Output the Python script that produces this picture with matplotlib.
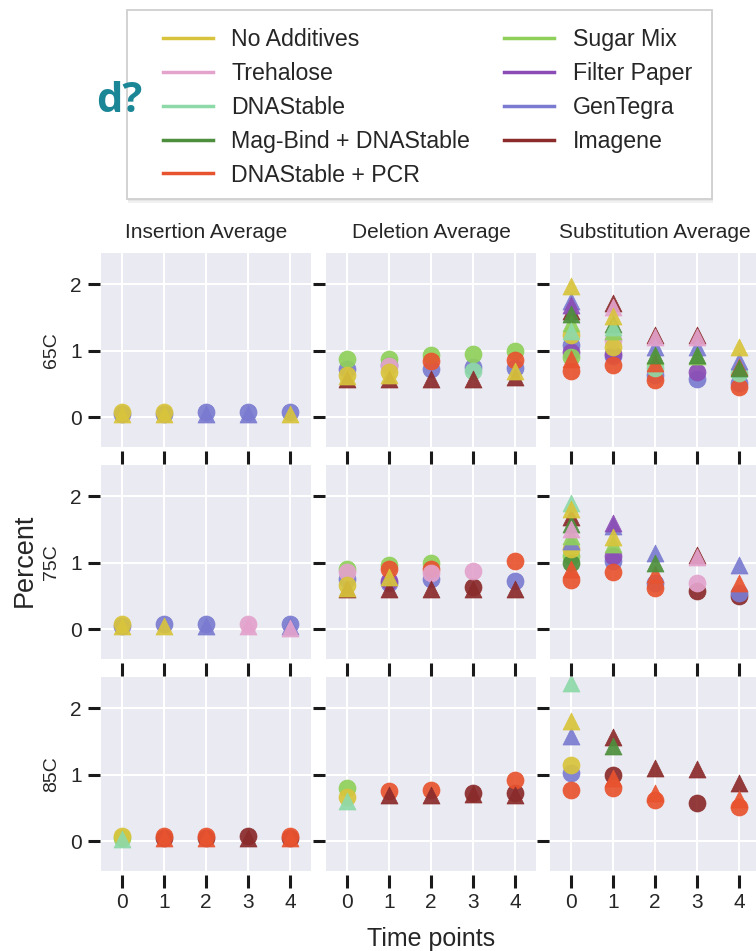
import numpy as np
import matplotlib
matplotlib.use("Agg")
import matplotlib.pyplot as plt
from matplotlib.lines import Line2D
from matplotlib.patches import Rectangle

plt.rcParams['font.family'] = ['Liberation Sans', 'DejaVu Sans']

n = np.nan

time_points = [0, 1, 2, 3, 4]
temps = ['65C', '75C', '85C']
col_titles = ['Insertion Average', 'Deletion Average', 'Substitution Average']

names = ['No Additives', 'Trehalose', 'DNAStable', 'Mag-Bind + DNAStable',
         'DNAStable + PCR', 'Sugar Mix', 'Filter Paper', 'GenTegra', 'Imagene']
colors = ['#d8c43c', '#e3a3cc', '#8ed9a8', '#4d8f3c', '#e8532f',
          '#8fd05a', '#8b4db5', '#7a7bd0', '#8b2b2b']

# rows follow the order of `names`, columns are time points 0..4
ins65_circle = [
    [0.07, 0.07, n, n, n],
    [n, n, n, n, n],
    [n, n, n, n, n],
    [n, n, n, n, n],
    [n, n, n, n, n],
    [n, n, n, n, n],
    [n, n, n, n, n],
    [0.05, 0.05, 0.07, 0.07, 0.07],
    [n, n, n, n, n],
]
ins65_tri = [
    [0.04, 0.04, n, n, 0.04],
    [n, n, n, n, n],
    [n, n, n, n, n],
    [n, n, n, n, n],
    [n, n, n, n, n],
    [n, n, n, n, n],
    [n, n, n, n, n],
    [n, n, 0.04, 0.04, n],
    [n, n, n, n, n],
]
ins75_circle = [
    [0.07, n, n, n, n],
    [n, n, n, 0.07, n],
    [n, n, n, n, n],
    [n, n, n, n, n],
    [n, n, n, n, n],
    [n, n, n, n, n],
    [n, n, n, n, n],
    [0.05, 0.07, 0.07, n, 0.07],
    [n, n, n, n, n],
]
ins75_tri = [
    [0.04, 0.04, n, n, n],
    [n, n, n, 0.04, 0.02],
    [n, n, n, n, n],
    [n, n, n, n, n],
    [n, n, n, n, n],
    [n, n, n, n, n],
    [n, n, n, n, n],
    [n, n, 0.04, n, 0.04],
    [n, n, n, n, n],
]
ins85_circle = [
    [0.07, n, n, n, n],
    [n, n, n, n, n],
    [n, n, n, n, n],
    [n, n, n, n, n],
    [n, 0.07, 0.07, n, 0.07],
    [0.05, n, n, n, n],
    [n, n, n, n, n],
    [n, n, n, n, n],
    [n, 0.05, 0.05, 0.07, 0.05],
]
ins85_tri = [
    [n, n, n, n, n],
    [n, n, n, n, n],
    [0.03, n, n, n, n],
    [n, n, n, n, n],
    [n, 0.04, 0.04, n, 0.04],
    [n, n, n, n, n],
    [n, n, n, n, n],
    [n, n, n, n, n],
    [n, n, n, 0.04, n],
]

del65_circle = [
    [0.64, 0.68, n, n, n],
    [n, 0.77, n, n, n],
    [n, n, n, 0.70, n],
    [n, n, n, n, n],
    [n, n, 0.84, n, 0.86],
    [0.87, 0.88, 0.93, 0.95, 1.00],
    [n, n, n, n, n],
    [0.73, 0.79, 0.72, 0.76, 0.74],
    [n, n, n, n, n],
]
del65_tri = [
    [0.62, 0.64, n, n, 0.70],
    [n, n, n, n, n],
    [n, n, n, n, n],
    [n, n, n, n, n],
    [n, n, n, n, n],
    [n, n, n, n, n],
    [n, n, n, n, n],
    [n, n, n, n, n],
    [0.58, 0.58, 0.58, 0.58, 0.60],
]
del75_circle = [
    [0.66, n, n, n, n],
    [0.86, n, 0.84, 0.88, n],
    [n, n, n, n, n],
    [n, n, n, n, n],
    [n, 0.90, 0.90, n, 1.02],
    [0.90, 0.97, 1.00, n, n],
    [n, 0.72, n, n, n],
    [0.76, 0.70, 0.76, n, 0.72],
    [n, n, n, 0.64, n],
]
del75_tri = [
    [0.62, 0.78, n, n, n],
    [n, n, n, n, n],
    [n, n, n, n, n],
    [n, n, n, n, n],
    [n, n, n, n, n],
    [n, n, n, n, n],
    [n, n, n, n, n],
    [n, n, n, n, n],
    [0.60, 0.60, 0.60, 0.60, 0.60],
]
del85_circle = [
    [0.66, n, n, n, n],
    [n, n, n, n, n],
    [n, n, n, n, n],
    [n, n, n, n, n],
    [n, 0.75, 0.77, n, 0.92],
    [0.80, n, n, n, n],
    [n, n, n, n, n],
    [n, n, n, n, n],
    [n, n, n, 0.73, 0.72],
]
del85_tri = [
    [n, n, n, n, n],
    [n, n, n, n, n],
    [0.60, n, n, n, n],
    [n, n, n, n, n],
    [n, n, n, n, n],
    [n, n, n, n, n],
    [n, n, n, n, n],
    [n, n, n, n, n],
    [n, 0.70, 0.70, 0.71, 0.70],
]

sub65_circle = [
    [1.24, 1.06, n, n, n],
    [n, 1.16, n, n, n],
    [n, n, 0.74, n, 0.66],
    [n, n, n, n, n],
    [0.70, 0.78, 0.56, n, 0.46],
    [0.90, n, n, n, n],
    [0.98, 0.95, n, 0.68, n],
    [1.08, 0.92, 0.64, 0.57, 0.51],
    [n, n, n, n, n],
]
sub65_tri = [
    [1.98, 1.52, n, n, 1.06],
    [n, 1.66, 1.20, 1.20, n],
    [1.30, 1.36, n, n, n],
    [1.55, 1.40, 0.94, 0.94, 0.74],
    [0.88, n, 0.82, n, 0.76],
    [1.42, 1.30, 0.92, 0.92, n],
    [1.68, n, n, n, n],
    [1.74, n, 1.06, 1.06, 0.84],
    [1.60, 1.72, 1.24, 1.24, n],
]
sub75_circle = [
    [1.20, n, n, n, n],
    [n, n, n, 0.70, n],
    [n, n, n, n, n],
    [1.00, n, n, n, n],
    [0.74, 0.86, 0.62, n, n],
    [1.10, n, n, n, n],
    [n, 1.10, n, n, n],
    [n, 1.03, 0.70, n, 0.55],
    [n, n, n, 0.57, 0.50],
]
sub75_tri = [
    [1.81, 1.38, n, n, n],
    [1.50, n, n, 1.08, n],
    [1.90, n, n, n, n],
    [1.58, n, 1.00, n, n],
    [0.90, n, 0.83, n, 0.70],
    [1.40, 1.28, n, n, n],
    [n, 1.60, n, n, n],
    [1.33, 1.55, 1.15, n, 0.96],
    [1.68, n, n, 1.12, n],
]
sub85_circle = [
    [1.15, n, n, n, n],
    [n, n, n, n, n],
    [n, n, n, n, n],
    [n, n, n, n, n],
    [0.77, 0.80, 0.62, n, 0.52],
    [n, n, n, n, n],
    [n, n, n, n, n],
    [1.03, n, n, n, n],
    [n, 1.00, n, 0.57, n],
]
sub85_tri = [
    [1.81, n, n, n, n],
    [n, n, n, n, n],
    [2.38, n, n, n, n],
    [n, 1.43, n, n, n],
    [n, 0.95, 0.72, n, 0.64],
    [n, n, n, n, n],
    [n, n, n, n, n],
    [1.58, n, n, n, n],
    [n, 1.56, 1.10, 1.08, 0.88],
]

grid_data = [
    [(ins65_circle, ins65_tri), (del65_circle, del65_tri), (sub65_circle, sub65_tri)],
    [(ins75_circle, ins75_tri), (del75_circle, del75_tri), (sub75_circle, sub75_tri)],
    [(ins85_circle, ins85_tri), (del85_circle, del85_tri), (sub85_circle, sub85_tri)],
]

W, H = 756, 951
fig = plt.figure(figsize=(W / 100, H / 100), dpi=100)

col_left = [101, 326, 550]
row_bottom = [447, 659, 871]
panel_w, panel_h = 210, 194

for r in range(3):
    for c in range(3):
        ax = fig.add_axes([col_left[c] / W, (H - row_bottom[r]) / H, panel_w / W, panel_h / H])
        ax.set_facecolor('#eaeaf2')
        for s in ax.spines.values():
            s.set_visible(False)
        ax.spines['bottom'].set_position(('outward', 3))
        ax.spines['left'].set_position(('outward', 1))
        ax.set_axisbelow(True)
        ax.grid(True, color='white', lw=1.5)

        circles, tris = grid_data[r][c]
        for marker, table in (('o', circles), ('^', tris)):
            for i in reversed(range(len(names))):
                ax.scatter(time_points, table[i], marker=marker, s=150,
                           color=colors[i], edgecolors=colors[i], linewidths=0.5,
                           alpha=0.92, zorder=3)

        ax.set_xlim(-0.5, 4.5)
        ax.set_ylim(-0.45, 2.47)
        ax.set_xticks(time_points)
        ax.set_yticks([0, 1, 2])
        ax.tick_params(length=9, width=2.2, color='#1a1a1a', labelsize=15,
                       labelcolor='#262626', pad=4,
                       labelbottom=(r == 2), labelleft=(c == 0))
        if r == 0:
            ax.set_title(col_titles[c], fontsize=15, color='#262626', pad=11)
        if c == 0:
            ax.set_ylabel(temps[r], fontsize=14, color='#262626', labelpad=7)

fig.text(25 / W, 1 - 560 / H, 'Percent', rotation=90, fontsize=19.5,
         color='#262626', ha='center', va='center')
fig.text(431 / W, 1 - 939 / H, 'Time points', fontsize=18,
         color='#262626', ha='center', va='center')

fig.text(96 / W, 1 - 101 / H, 'd?', fontsize=30, fontweight='bold',
         family=['Open Sans', 'DejaVu Sans'], color='#1b8796',
         ha='left', va='center')

# legend box with a soft shadow underneath
bx0, by0, bx1, by1 = 127, 10, 712, 199
for k, shade in enumerate(['#f1f1f1', '#e6e6e6']):
    off = 4 - 2 * k
    fig.patches.append(Rectangle(((bx0 + 1) / W, 1 - (by1 + off) / H), (bx1 - bx0) / W,
                                 (by1 - by0) / H, transform=fig.transFigure,
                                 fc=shade, ec='none', zorder=0.5 + k * 0.1))
fig.patches.append(Rectangle((bx0 / W, 1 - by1 / H), (bx1 - bx0) / W, (by1 - by0) / H,
                             transform=fig.transFigure, fc='white', ec='#cfcfcf',
                             lw=1.3, zorder=1))

handles = [Line2D([], [], color=col, lw=2.5) for col in colors]
leg = fig.legend(handles, names, ncol=2, loc='upper left',
                 bbox_to_anchor=(163 / W, 1 - 28 / H), frameon=False,
                 fontsize=16.7, handlelength=2.15, handletextpad=0.8,
                 columnspacing=1.47, labelspacing=0.47, borderpad=0, borderaxespad=0)
for t in leg.get_texts():
    t.set_color('#262626')

fig.savefig('out.png', dpi=100)
